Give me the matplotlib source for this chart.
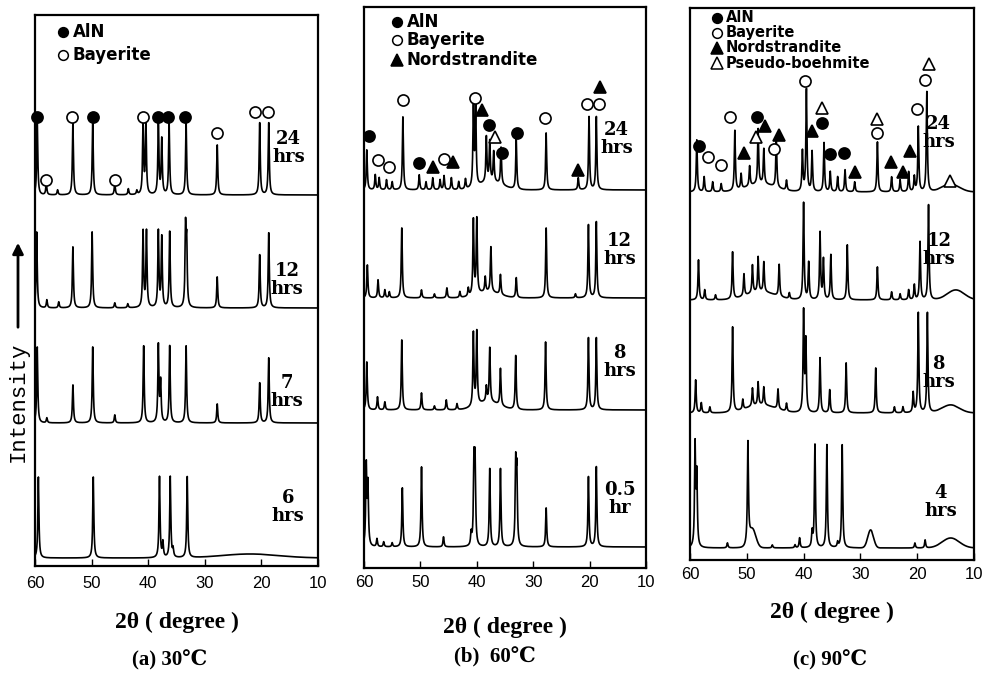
import numpy as np
import matplotlib
matplotlib.use("Agg")
import matplotlib.pyplot as plt

W, H = 986, 678

# ---------------- data (2θ in degree, heights in relative intensity units) ----------------
# panel (a) 30 ℃
a24_pos = [59.6, 58.0, 56.0, 53.3, 49.8, 45.9, 43.5, 42.0, 40.9, 40.4, 38.2, 37.6, 36.3, 33.3, 27.8, 20.3, 18.7]
a24_h   = [75, 12, 5, 72, 72, 12, 6, 4, 72, 70, 72, 55, 72, 72, 50, 72, 72]
a12_pos = [59.7, 57.9, 55.8, 53.3, 49.9, 45.9, 43.6, 40.9, 40.3, 38.2, 37.6, 36.2, 33.4, 33.2, 27.8, 20.3, 18.7]
a12_h   = [76, 8, 6, 61, 76, 5, 4, 76, 76, 76, 70, 76, 76, 60, 31, 53, 75]
a7_pos  = [59.6, 57.9, 53.3, 49.8, 45.9, 40.8, 38.2, 37.8, 36.2, 33.3, 27.8, 20.3, 18.7]
a7_h    = [76, 5, 38, 76, 8, 77, 77, 40, 77, 77, 19, 40, 65]
a6_pos  = [59.4, 49.7, 38.0, 37.4, 36.1, 35.6, 33.1]
a6_h    = [81, 81, 81, 15, 81, 8, 81]
a6_hump_pos, a6_hump_h, a6_hump_w = [22.0], [4], [5.0]

# panel (b) 60 ℃
b24_pos = [59.5, 58.0, 57.3, 56.0, 55.0, 53.1, 50.2, 49.0, 47.8, 46.5, 45.8, 44.5, 43.2, 42.0,
           40.6, 40.2, 38.3, 37.7, 37.0, 35.7, 33.0, 27.7, 22.0, 20.1, 18.8]
b24_h   = [40, 15, 12, 10, 8, 73, 15, 8, 12, 10, 14, 12, 8, 10, 78, 78, 45, 40, 30, 37, 50, 57, 12, 73, 73]
b24_hump_pos, b24_hump_h, b24_hump_w = [37.5], [8], [2.0]
b12_pos = [59.4, 57.5, 56.3, 55.5, 53.3, 49.8, 47.5, 45.3, 43.0, 41.5, 40.6, 40.0, 38.5, 37.5,
           35.8, 33.0, 27.7, 22.5, 20.2, 18.8]
b12_h   = [33, 18, 8, 6, 70, 8, 4, 10, 6, 8, 75, 75, 15, 45, 20, 20, 70, 4, 73, 76]
b12_hump_pos, b12_hump_h, b12_hump_w = [38.0], [6], [2.0]
b8_pos  = [59.5, 57.6, 56.3, 53.3, 49.8, 47.5, 45.4, 43.5, 40.6, 40.0, 38.3, 37.7, 35.8, 33.1, 27.8, 20.2, 18.8]
b8_h    = [48, 13, 8, 70, 17, 4, 10, 6, 73, 73, 15, 54, 37, 54, 68, 72, 72]
b8_hump_pos, b8_hump_h, b8_hump_w = [38.0], [8], [2.0]
b05_pos = [59.6, 59.3, 57.7, 56.5, 55.0, 53.2, 49.8, 45.9, 41.0, 40.5, 40.3, 37.7, 35.8, 33.1, 32.9, 27.7, 20.2, 18.8]
b05_h   = [80, 60, 8, 5, 4, 59, 80, 10, 12, 80, 80, 78, 78, 78, 70, 39, 70, 80]

# panel (c) 90 ℃
c24_pos = [58.8, 57.5, 56.0, 54.5, 52.1, 51.0, 49.5, 48.0, 47.0, 44.8, 43.0, 40.2, 39.5, 38.5, 36.4,
           35.3, 34.0, 32.7, 31.0, 27.0, 24.5, 23.0, 21.5, 20.5, 19.8, 18.3]
c24_h   = [52, 15, 10, 8, 60, 15, 20, 55, 35, 50, 10, 40, 102, 40, 49, 20, 15, 22, 10, 50, 15, 12, 20, 15, 65, 100]
c24_hump_pos, c24_hump_h, c24_hump_w = [14.1, 47.5], [8, 8], [1.5, 2.5]
c12_pos = [58.5, 57.4, 55.5, 52.5, 50.5, 49.0, 48.0, 47.0, 44.3, 42.5, 40.0, 39.1, 37.1, 36.5, 35.2,
           32.3, 27.0, 24.5, 23.0, 21.5, 20.5, 19.5, 18.0]
c12_h   = [40, 10, 5, 47, 22, 28, 35, 30, 32, 6, 97, 37, 67, 40, 45, 55, 33, 8, 6, 10, 15, 58, 95]
c12_hump_pos, c12_hump_h, c12_hump_w = [13.2, 47.5], [10, 8], [1.5, 2.5]
c8_pos  = [59.0, 58.0, 56.5, 52.5, 50.7, 49.0, 48.0, 47.0, 44.5, 43.0, 40.0, 39.6, 37.1, 35.4, 32.5,
           27.3, 24.0, 22.5, 20.7, 19.8, 18.2]
c8_h    = [33, 10, 6, 85, 10, 18, 23, 18, 20, 8, 100, 70, 55, 23, 50, 45, 6, 6, 20, 100, 100]
c8_hump_pos, c8_hump_h, c8_hump_w = [14.1, 47.5], [8, 8], [1.5, 2.5]
c4_pos  = [59.1, 58.8, 53.4, 49.8, 45.5, 41.5, 40.7, 38.5, 38.0, 35.9, 34.0, 33.2, 20.4, 18.6]
c4_h    = [101, 70, 5, 100, 3, 3, 10, 15, 103, 103, 5, 103, 5, 8]
c4_hump_pos, c4_hump_h, c4_hump_w = [49.0, 28.2, 14.1], [18, 18, 10], [0.6, 0.5, 1.5]

# phase markers (2θ, height in panel units)
a_aln_x, a_aln_y = [59.7, 49.8, 38.3, 36.5, 33.5], [449, 449, 449, 449, 449]
a_bay_x, a_bay_y = [58.0, 53.5, 45.9, 40.9, 27.8, 21.1, 18.8], [386, 449, 386, 449, 433, 454, 454]

b_aln_x, b_aln_y = [59.1, 50.2, 37.9, 35.5, 32.9], [432, 405, 443, 415, 435]
b_bay_x, b_bay_y = [57.5, 55.5, 53.0, 45.9, 40.4, 27.9, 20.5, 18.4], [408, 401, 468, 409, 470, 450, 464, 464]
b_nor_x, b_nor_y = [47.7, 44.3, 39.1, 22.0, 18.2], [401, 406, 458, 398, 481]
b_pbo_x, b_pbo_y = [36.8], [431]

c_aln_x, c_aln_y = [58.4, 48.2, 36.8, 35.4, 32.9], [414, 443, 437, 406, 407]
c_bay_x, c_bay_y = [56.8, 54.6, 52.9, 45.2, 39.8, 27.1, 20.0, 18.6], [403, 395, 443, 411, 479, 427, 451, 480]
c_nor_x, c_nor_y = [50.5, 46.8, 44.3, 38.6, 30.9, 24.6, 22.5, 21.3], [407, 434, 425, 429, 388, 398, 388, 409]
c_pbo_x, c_pbo_y = [48.4, 36.8, 27.1, 17.9, 14.3], [423, 452, 441, 496, 379]

ticks = [60, 50, 40, 30, 20, 10]
xlabel = "2θ ( degree )"
titles = ["(a) 30℃", "(b)  60℃", "(c) 90℃"]
legend_names = ["AlN", "Bayerite", "Nordstrandite", "Pseudo-boehmite"]

# ---------------- helpers ----------------
theta = np.linspace(10, 60, 5001)


def profile(pos, h, hump_pos=(), hump_h=(), hump_w=(), w=0.11):
    y = np.zeros_like(theta)
    for p, a in zip(pos, h):
        y += a / (1 + ((theta - p) / w) ** 2)
    for p, a, ww in zip(hump_pos, hump_h, hump_w):
        y += a * np.exp(-0.5 * ((theta - p) / ww) ** 2)
    return y


def fig_box(l, r, t, b):
    return [l / W, 1 - b / H, (r - l) / W, (b - t) / H]


fig = plt.figure(figsize=(W / 100, H / 100), dpi=100)

boxes = [fig_box(35, 318, 15, 566), fig_box(364, 646, 7, 568), fig_box(690, 974, 8, 560)]
ylims = [566 - 15, 568 - 7, 560 - 8]

panels = [
    [(profile(a24_pos, a24_h), 371), (profile(a12_pos, a12_h), 258),
     (profile(a7_pos, a7_h), 143), (profile(a6_pos, a6_h, a6_hump_pos, a6_hump_h, a6_hump_w), 8)],
    [(profile(b24_pos, b24_h, b24_hump_pos, b24_hump_h, b24_hump_w), 378),
     (profile(b12_pos, b12_h, b12_hump_pos, b12_hump_h, b12_hump_w), 270),
     (profile(b8_pos, b8_h, b8_hump_pos, b8_hump_h, b8_hump_w), 158),
     (profile(b05_pos, b05_h), 21)],
    [(profile(c24_pos, c24_h, c24_hump_pos, c24_hump_h, c24_hump_w), 368),
     (profile(c12_pos, c12_h, c12_hump_pos, c12_hump_h, c12_hump_w), 260),
     (profile(c8_pos, c8_h, c8_hump_pos, c8_hump_h, c8_hump_w), 147),
     (profile(c4_pos, c4_h, c4_hump_pos, c4_hump_h, c4_hump_w), 12)],
]

labels = [
    [("24\nhrs", 15.2, 418), ("12\nhrs", 15.5, 286), ("7\nhrs", 15.5, 174), ("6\nhrs", 15.3, 59)],
    [("24\nhrs", 15.2, 429), ("12\nhrs", 14.7, 318), ("8\nhrs", 14.7, 206), ("0.5\nhr", 14.7, 69)],
    [("24\nhrs", 16.2, 427), ("12\nhrs", 16.2, 310), ("8\nhrs", 16.2, 187), ("4\nhrs", 15.9, 58)],
]

markers = [
    [(a_aln_x, a_aln_y, 'o', 'black'), (a_bay_x, a_bay_y, 'o', 'white')],
    [(b_aln_x, b_aln_y, 'o', 'black'), (b_bay_x, b_bay_y, 'o', 'white'),
     (b_nor_x, b_nor_y, '^', 'black'), (b_pbo_x, b_pbo_y, '^', 'white')],
    [(c_aln_x, c_aln_y, 'o', 'black'), (c_bay_x, c_bay_y, 'o', 'white'),
     (c_nor_x, c_nor_y, '^', 'black'), (c_pbo_x, c_pbo_y, '^', 'white')],
]

# legends: (marker x px, [row y px], text x px, rows, fontsize)
legends = [
    (63, [32, 55], 73, 2, 12),
    (397, [22, 40, 60], 407, 3, 12),
    (717, [18, 33, 48, 63], 726, 4, 10.5),
]
leg_styles = [('o', 'black'), ('o', 'white'), ('^', 'black'), ('^', 'white')]

xlab_y = [622, 627, 612]
title_y = [660, 657, 660]
title_x = [170, 495, 830]
tick_pad = [7, 5, 5]

for i in range(3):
    ax = fig.add_axes(boxes[i])
    ax.set_xlim(60, 10)
    ax.set_ylim(0, ylims[i])
    for y, off in panels[i]:
        ax.plot(theta, y + off, color='black', lw=1.2)
    for xs, ys, m, fc in markers[i]:
        ax.plot(xs, ys, linestyle='none', marker=m, markersize=8 if m == 'o' else 9,
                markerfacecolor=fc, markeredgecolor='black', markeredgewidth=1.2, clip_on=False)
    for txt, x, y in labels[i]:
        ax.text(x, y, txt, ha='center', va='center', fontsize=13, fontweight='bold',
                family='DejaVu Serif', linespacing=1.0)
    ax.set_xticks(ticks)
    ax.set_xticklabels([str(t) for t in ticks], family='Liberation Sans', fontsize=12)
    ax.tick_params(axis='x', direction='in', length=5, width=1, pad=tick_pad[i], top=False)
    ax.set_yticks([])
    for s in ax.spines.values():
        s.set_linewidth(1.6)
    # legend
    mx, rows, tx, n, fs = legends[i]
    for k in range(n):
        m, fc = leg_styles[k]
        fig.lines.append(plt.Line2D([mx / W], [1 - rows[k] / H], transform=fig.transFigure,
                                    linestyle='none', marker=m, markersize=7 if m == 'o' else 8,
                                    markerfacecolor=fc, markeredgecolor='black', markeredgewidth=1.1))
        fig.text(tx / W, 1 - rows[k] / H, legend_names[k], ha='left', va='center',
                 fontsize=fs, family='DejaVu Sans', fontweight='bold')
    cx = (boxes[i][0] + boxes[i][2] / 2)
    fig.text(cx, 1 - xlab_y[i] / H, xlabel, ha='center', va='center', fontsize=17,
             fontweight='bold', family='Liberation Serif')
    fig.text(title_x[i] / W, 1 - title_y[i] / H, titles[i], ha='center', va='center', fontsize=15,
             fontweight='bold', family=['Liberation Serif', 'DejaVu Serif', 'Noto Sans CJK SC'])

# Intensity label and arrow
fig.text(18 / W, 1 - 402 / H, "Intensity", rotation=90, ha='center', va='center',
         fontsize=16, family='Liberation Mono')
fig.add_artist(matplotlib.patches.FancyArrowPatch((18 / W, 1 - 330 / H), (18 / W, 1 - 240 / H),
                                                  transform=fig.transFigure, arrowstyle='-|>',
                                                  mutation_scale=16, lw=2.0, color='black'))

fig.savefig("out.png", dpi=100)
